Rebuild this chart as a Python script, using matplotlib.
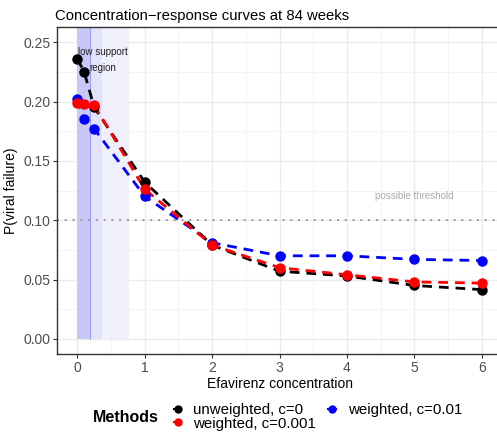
import matplotlib.pyplot as plt
import numpy as np
from matplotlib.lines import Line2D

plt.rcParams['font.family'] = ['Liberation Sans', 'DejaVu Sans']

# Datos
conc = [0, 0.1, 0.25, 1, 2, 3, 4, 5, 6]
unweighted = [0.236, 0.225, 0.195, 0.132, 0.079, 0.057, 0.053, 0.045, 0.0415]
weighted_001 = [0.199, 0.198, 0.197, 0.126, 0.079, 0.060, 0.054, 0.048, 0.047]
weighted_01 = [0.202, 0.185, 0.177, 0.120, 0.081, 0.070, 0.070, 0.067, 0.066]
labels = ['unweighted, c=0', 'weighted, c=0.001', 'weighted, c=0.01']
colores = ['black', 'red', 'blue']

# zonas de poco soporte
bandas = [0, 0.18, 0.37, 0.76]
colores_banda = ['#c8c8f6', '#e2e2fa', '#f0f0fc']
threshold = 0.10

fig = plt.figure(figsize=(4.97, 4.34), dpi=100)
ax = fig.add_axes([0.115, 0.185, 0.895, 0.752])

ytop = 0.2625
for i in range(3):
    ax.fill_between([bandas[i], bandas[i + 1]], 0, ytop, color=colores_banda[i],
                    lw=0, zorder=1)
ax.plot([bandas[1], bandas[1]], [0, ytop], color='#9090f0', lw=0.6, zorder=1)

ax.axhline(threshold, color='#999999', ls=(0, (1, 3)), lw=1.4, zorder=2)
ax.text(5, 0.12, 'possible threshold', color='#aaaaaa', fontsize=7,
        ha='center', va='center')
ax.text(0.38, 0.235, 'low support\nregion', fontsize=7, ha='center',
        va='center', linespacing=1.7, color='#222222', zorder=5)

series = [weighted_01, unweighted, weighted_001]
cols = [colores[2], colores[0], colores[1]]
for ys, c in zip(series, cols):
    ax.plot(conc, ys, color=c, ls=(0, (3.5, 2.5)), lw=2, zorder=3)
    ax.plot(conc, ys, 'o', color=c, ms=6.5, zorder=4)

ax.set_xlim(-0.3, 6.3)
ax.set_ylim(-0.0125, ytop)
ax.set_xticks(range(7))
ax.set_yticks([0, 0.05, 0.10, 0.15, 0.20, 0.25])
ax.set_yticklabels(['0.00', '0.05', '0.10', '0.15', '0.20', '0.25'])
ax.set_xticks(np.arange(0.5, 6.5, 1), minor=True)
ax.set_yticks(np.arange(0.025, 0.26, 0.05), minor=True)
ax.grid(which='major', color='#ebebeb', lw=1.0, zorder=0)
ax.grid(which='minor', color='#f2f2f2', lw=0.6, zorder=0)
ax.set_axisbelow(True)
ax.tick_params(which='major', colors='#333333', labelcolor='#4d4d4d',
               labelsize=10, length=3, pad=2)
ax.tick_params(which='minor', length=0)
for s in ax.spines.values():
    s.set_color('#333333')
    s.set_linewidth(1)

ax.set_xlabel('Efavirenz concentration', fontsize=10, labelpad=2)
ax.set_ylabel('P(viral failure)', fontsize=10, labelpad=4)
ax.set_title('Concentration\u2212response curves at 84 weeks', fontsize=10.7,
             loc='left', pad=5, x=-0.005)

# leyenda abajo
handles = [Line2D([], [], marker='o', color=c, lw=1.5, ms=5) for c in colores]
fig.text(0.187, 0.039, 'Methods', fontsize=11.5, fontweight='bold',
         ha='left', va='center')
fig.legend(handles, labels, ncol=2, loc='center left',
           bbox_to_anchor=(0.335, 0.039), frameon=False, fontsize=10.8,
           handlelength=0.5, handletextpad=0.8, columnspacing=0.8,
           labelspacing=-0.05, borderpad=0)

fig.savefig('out.png', dpi=100)
